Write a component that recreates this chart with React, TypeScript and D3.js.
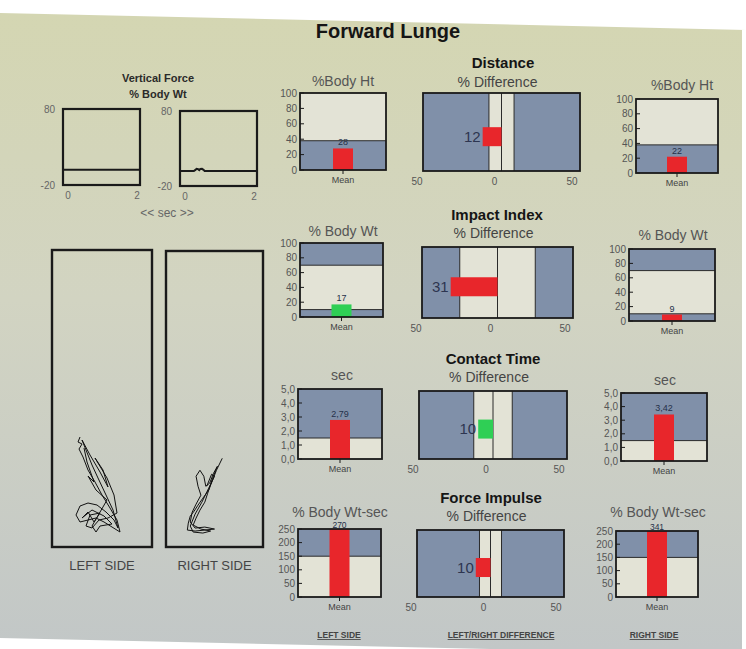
import React from "react";
import * as d3 from "d3";

// ---------------- DATA ----------------
const sectionTitles = ["Distance", "Impact Index", "Contact Time", "Force Impulse"];
const unitLabels = ["%Body Ht", "% Body Wt", "sec", "% Body Wt-sec"];
const yMaxes = [100, 100, 5, 250];
const yTickValues = [
  [0, 20, 40, 60, 80, 100],
  [0, 20, 40, 60, 80, 100],
  [0, 1, 2, 3, 4, 5],
  [0, 50, 100, 150, 200, 250],
];
const grayBands: [number, number][][] = [
  [[0, 38]],
  [[0, 10], [70, 100]],
  [[1.5, 5]],
  [[150, 250]],
];
const leftMeans = [28, 17, 2.79, 270];
const rightMeans = [22, 9, 3.42, 341];
const leftBarColors = ["red", "green", "red", "red"];
const rightBarColors = ["red", "red", "red", "red"];
const diffValues = [-12, -31, -10, -10];
const diffNormal = [8, 25, 13, 7.5];
const diffColors = ["red", "red", "green", "red"];
const diffTickLabels = ["50", "0", "50"];
const diffTickValues = [-50, 0, 50];
const forceTickY = [80, -20];
const forceTickX = [0, 2];
const forceLeft: [number, number][] = [[0, 0], [2, 0]];
const forceRight: [number, number][] = [
  [0, 0], [0.36, 0], [0.4, 1.5], [0.43, 3], [0.47, 2.5], [0.5, 1.2], [0.53, 2.8], [0.57, 3], [0.61, 1.5], [0.64, 0], [2, 0],
];
// centre-of-pressure traces (x: 0-100 box width, y: 0-297 box height from top)
const traceLeft: [number, number][] = [
  [28, 187], [26, 192], [30, 194], [27, 199], [31, 207], [36, 220], [43, 232], [50, 245], [58, 258], [65, 270], [68, 282],
  [60, 277], [52, 272], [44, 268], [36, 270], [28, 272], [24, 265], [28, 256], [36, 253], [45, 255],
  [54, 262], [62, 270], [66, 278], [61, 260], [54, 245], [46, 228], [40, 215], [34, 200], [30, 190],
  [38, 205], [48, 222], [56, 237], [51, 220], [43, 208], [46, 213], [55, 228], [62, 245], [65, 263],
  [56, 268], [47, 270], [40, 278], [34, 276], [38, 265], [48, 263], [42, 272], [36, 262], [30, 268],
  [40, 260], [52, 266], [60, 274], [48, 276], [44, 282], [40, 276], [55, 250], [44, 240], [36, 226],
  [42, 232], [35, 212], [32, 198],
];
const traceRight: [number, number][] = [
  [58, 208], [52, 220], [48, 230], [44, 240], [38, 248], [33, 255], [29, 261], [25, 266], [23, 273],
  [22, 280], [30, 281], [40, 280], [50, 279], [40, 277], [30, 278], [25, 272], [27, 262], [31, 254],
  [36, 245], [33, 236], [31, 226], [35, 220], [39, 226], [41, 236], [45, 233], [49, 223], [53, 216],
  [48, 228], [43, 243], [40, 252], [35, 260], [31, 268], [28, 275], [36, 279], [46, 281], [38, 283],
  [28, 282], [25, 276], [30, 264], [37, 252], [44, 238], [50, 226], [47, 224], [42, 236],
];
const footerLabels = ["LEFT SIDE", "LEFT/RIGHT DIFFERENCE", "RIGHT SIDE"];

// ---------------- LAYOUT ----------------
type Box = { x: number; y: number; w: number; h: number };
const rows = [
  { title: [503, 68], sub: 87, unitL: [343, 86], unitR: [682, 90],
    left: { x: 300, y: 93, w: 86, h: 77 }, mid: { x: 423, y: 93, w: 157, h: 78 }, right: { x: 636, y: 99, w: 82, h: 74 } },
  { title: [497, 220], sub: 238, unitL: [343, 236], unitR: [673, 240],
    left: { x: 300, y: 243, w: 83, h: 74 }, mid: { x: 422, y: 247, w: 151, h: 71 }, right: { x: 629, y: 249, w: 86, h: 72 } },
  { title: [493, 364], sub: 382, unitL: [342, 380], unitR: [665, 385],
    left: { x: 298, y: 389, w: 84, h: 70 }, mid: { x: 419, y: 391, w: 148, h: 68 }, right: { x: 621, y: 393, w: 86, h: 68 } },
  { title: [491, 503], sub: 521, unitL: [340, 517], unitR: [658, 517],
    left: { x: 298, y: 529, w: 83, h: 68 }, mid: { x: 417, y: 530, w: 147, h: 67 }, right: { x: 616, y: 531, w: 82, h: 66 } },
];

const FONT = "'Liberation Sans', Arial, sans-serif";
const COL = { red: "#e8262b", green: "#2fcf55", band: "#8090a9", light: "#e3e3d6", ink: "#1a1a1a" };
const fmt = (v: number, dec: boolean) => (dec ? d3.format(".1f")(v) : String(v)).replace(".", ",");
const fmtVal = (v: number) => (Number.isInteger(v) ? String(v) : d3.format(".2f")(v).replace(".", ","));

function SideChart({ box, row, value, color }: { box: Box; row: number; value: number; color: string }) {
  const y = d3.scaleLinear().domain([0, yMaxes[row]]).range([box.y + box.h, box.y]).clamp(true);
  const x = d3.scalePoint<string>().domain(["Mean"]).range([box.x, box.x + box.w]).padding(0.5);
  const cx = x("Mean") as number;
  const bw = 20;
  const dec = yMaxes[row] < 10;
  const clipped = value > yMaxes[row];
  return (
    <g>
      <rect x={box.x} y={box.y} width={box.w} height={box.h} fill={COL.light} />
      {grayBands[row].map((b, i) => (
        <rect key={i} x={box.x} y={y(b[1])} width={box.w} height={y(b[0]) - y(b[1])} fill={COL.band} />
      ))}
      {grayBands[row].map((b, i) => (
        <g key={"l" + i}>
          {[b[0], b[1]].filter((v) => v > 0 && v < yMaxes[row]).map((v) => (
            <line key={v} x1={box.x} x2={box.x + box.w} y1={y(v)} y2={y(v)} stroke="#2a2a2a" strokeWidth={1} />
          ))}
        </g>
      ))}
      <rect x={cx - bw / 2} y={y(value)} width={bw} height={y(0) - y(value)} fill={COL[color as "red"]} />
      <text x={cx} y={clipped ? box.y - 1 : y(value) - 3} textAnchor="middle" fontSize={clipped ? 8.5 : 9} fill="#26304a" fontFamily={FONT}>
        {fmtVal(value)}
      </text>
      <rect x={box.x} y={box.y} width={box.w} height={box.h} fill="none" stroke={COL.ink} strokeWidth={1.8} />
      {yTickValues[row].map((t) => (
        <g key={t}>
          <line x1={box.x} x2={box.x + 4} y1={y(t)} y2={y(t)} stroke={COL.ink} strokeWidth={1} />
          <text x={box.x - 3} y={y(t) + 3.5} textAnchor="end" fontSize={10} fill="#555" fontFamily={FONT}>
            {fmt(t, dec)}
          </text>
        </g>
      ))}
      <line x1={cx} x2={cx} y1={box.y + box.h} y2={box.y + box.h + 4} stroke={COL.ink} strokeWidth={1} />
      <text x={cx} y={box.y + box.h + 13} textAnchor="middle" fontSize={9} fill="#444" fontFamily={FONT}>Mean</text>
    </g>
  );
}

function DiffChart({ box, row }: { box: Box; row: number }) {
  const x = d3.scaleLinear().domain([-50, 50]).range([box.x, box.x + box.w]);
  const xl = d3.scaleLinear().domain([-50, 50]).range([box.x - 6, box.x + box.w - 8]);
  const n = diffNormal[row];
  const v = diffValues[row];
  const bh = 19;
  const cy = box.y + box.h * 0.56;
  return (
    <g>
      <rect x={box.x} y={box.y} width={box.w} height={box.h} fill={COL.light} />
      <rect x={x(-50)} y={box.y} width={x(-n) - x(-50)} height={box.h} fill={COL.band} />
      <rect x={x(n)} y={box.y} width={x(50) - x(n)} height={box.h} fill={COL.band} />
      {[-n, 0, n].map((t) => (
        <line key={t} x1={x(t)} x2={x(t)} y1={box.y} y2={box.y + box.h} stroke="#2a2a2a" strokeWidth={1} />
      ))}
      <rect x={x(Math.min(v, 0))} y={cy - bh / 2} width={Math.abs(x(v) - x(0))} height={bh} fill={COL[diffColors[row] as "red"]} />
      <text x={x(Math.min(v, 0)) - 2} y={cy + 5} textAnchor="end" fontSize={15} fill="#2d3550" fontFamily={FONT}>
        {Math.abs(v)}
      </text>
      <rect x={box.x} y={box.y} width={box.w} height={box.h} fill="none" stroke={COL.ink} strokeWidth={1.8} />
      {diffTickValues.map((t, i) => (
        <text key={t} x={xl(t)} y={box.y + box.h + 14} textAnchor="middle" fontSize={10} fill="#555" fontFamily={FONT}>
          {diffTickLabels[i]}
        </text>
      ))}
    </g>
  );
}

function ForcePlot({ box, data }: { box: Box; data: [number, number][] }) {
  const x = d3.scaleLinear().domain([0, 2]).range([box.x, box.x + box.w]);
  const y = d3.scaleLinear().domain([-20, 80]).range([box.y + box.h, box.y]);
  const line = d3.line<[number, number]>().x((d) => x(d[0])).y((d) => y(d[1]));
  return (
    <g>
      <rect x={box.x} y={box.y} width={box.w} height={box.h} fill="none" stroke={COL.ink} strokeWidth={2.2} />
      <path d={line(data) || ""} fill="none" stroke={COL.ink} strokeWidth={2} />
      {forceTickY.map((t) => (
        <text key={t} x={box.x - 8} y={y(t) + 3.5} textAnchor="end" fontSize={10} fill="#666" fontFamily={FONT}>{t}</text>
      ))}
      {forceTickX.map((t) => (
        <text key={t} x={x(t) + (t === 0 ? 5 : -3)} y={box.y + box.h + 14} textAnchor="middle" fontSize={10} fill="#666" fontFamily={FONT}>{t}</text>
      ))}
    </g>
  );
}

function TracePlot({ box, data, label }: { box: Box; data: [number, number][]; label: string }) {
  const x = d3.scaleLinear().domain([0, 100]).range([box.x, box.x + box.w]);
  const y = d3.scaleLinear().domain([0, 297]).range([box.y, box.y + box.h]);
  const line = d3.line<[number, number]>().x((d) => x(d[0])).y((d) => y(d[1]));
  return (
    <g>
      <rect x={box.x} y={box.y} width={box.w} height={box.h} fill="none" stroke={COL.ink} strokeWidth={2.4} />
      <path d={line(data) || ""} fill="none" stroke="#111" strokeWidth={1} strokeLinejoin="round" />
      <text x={box.x + box.w / 2} y={box.y + box.h + 23} textAnchor="middle" fontSize={13} fill="#444" fontFamily={FONT}>{label}</text>
    </g>
  );
}

export default function App() {
  return (
    <svg width={746} height={649} style={{ position: "absolute", left: 0, top: 0, display: "block" }}>
      <defs>
        <linearGradient id="screen" x1="0" y1="0" x2="0" y2="1">
          <stop offset="0" stopColor="#d4d6b2" />
          <stop offset="0.45" stopColor="#d2d4c2" />
          <stop offset="1" stopColor="#c2c7c7" />
        </linearGradient>
      </defs>
      <rect x={0} y={0} width={746} height={649} fill="#ffffff" />
      <polygon points="0,13 746,30 742,30 742,649 490,649 0,638" fill="url(#screen)" />

      <text x={388} y={38} textAnchor="middle" fontSize={20} fontWeight="bold" fill="#151515" fontFamily={FONT}>Forward Lunge</text>

      <text x={158} y={82} textAnchor="middle" fontSize={11} fontWeight="bold" fill="#2a2a2a" fontFamily={FONT}>Vertical Force</text>
      <text x={158} y={98} textAnchor="middle" fontSize={11} fontWeight="bold" fill="#2a2a2a" fontFamily={FONT}>% Body Wt</text>
      <ForcePlot box={{ x: 63, y: 109, w: 77, h: 76 }} data={forceLeft} />
      <ForcePlot box={{ x: 180, y: 111, w: 77, h: 75 }} data={forceRight} />
      <text x={167} y={217} textAnchor="middle" fontSize={12} fill="#666" fontFamily={FONT}>{"<< sec >>"}</text>

      <TracePlot box={{ x: 52, y: 250, w: 100, h: 297 }} data={traceLeft} label="LEFT SIDE" />
      <TracePlot box={{ x: 166, y: 251, w: 97, h: 296 }} data={traceRight} label="RIGHT SIDE" />

      {rows.map((r, i) => (
        <g key={i}>
          <text x={r.title[0]} y={r.title[1]} textAnchor="middle" fontSize={15} fontWeight="bold" fill="#151515" fontFamily={FONT}>{sectionTitles[i]}</text>
          <text x={r.mid.x + r.mid.w / 2 - 4} y={r.sub} textAnchor="middle" fontSize={14} fill="#444" fontFamily={FONT}>% Difference</text>
          <text x={r.unitL[0]} y={r.unitL[1]} textAnchor="middle" fontSize={14} fill="#555" fontFamily={FONT}>{unitLabels[i]}</text>
          <text x={r.unitR[0]} y={r.unitR[1]} textAnchor="middle" fontSize={14} fill="#555" fontFamily={FONT}>{unitLabels[i]}</text>
          <SideChart box={r.left} row={i} value={leftMeans[i]} color={leftBarColors[i]} />
          <DiffChart box={r.mid} row={i} />
          <SideChart box={r.right} row={i} value={rightMeans[i]} color={rightBarColors[i]} />
        </g>
      ))}

      {[339, 501, 654].map((cx, i) => (
        <text key={i} x={cx} y={638} textAnchor="middle" fontSize={8.5} fontWeight="bold" fill="#444" textDecoration="underline" fontFamily={FONT}>
          {footerLabels[i]}
        </text>
      ))}
    </svg>
  );
}
